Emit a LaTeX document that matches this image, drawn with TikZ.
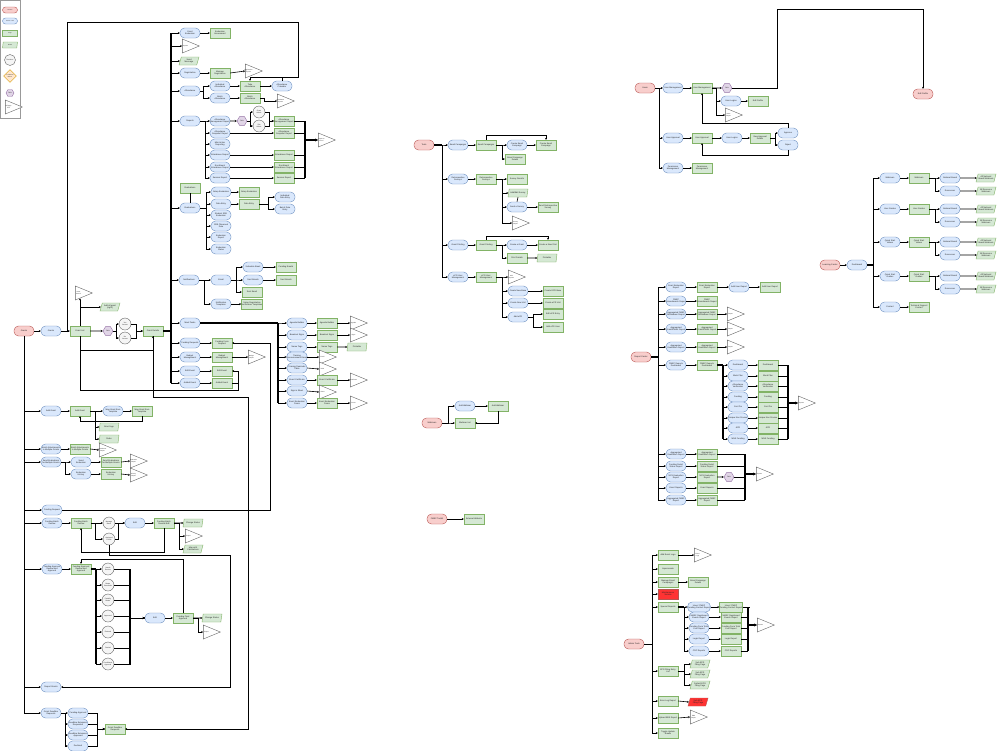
\documentclass[tikz,border=0pt]{standalone}
\usepackage{fontspec}
\setmainfont{Liberation Sans}
\usetikzlibrary{shapes.geometric,arrows.meta}
\definecolor{blfill}{HTML}{DAE8FC}\definecolor{bldraw}{HTML}{6C8EBF}
\definecolor{grfill}{HTML}{D5E8D4}\definecolor{grdraw}{HTML}{82B366}
\definecolor{pkfill}{HTML}{F8CECC}\definecolor{pkdraw}{HTML}{B85450}
\definecolor{pufill}{HTML}{E1D5E7}\definecolor{pudraw}{HTML}{9673A6}
\definecolor{orfill}{HTML}{FFE6CC}\definecolor{ordraw}{HTML}{D79B00}
\definecolor{rdfill}{HTML}{FF3333}
\tikzset{
 base/.style={draw, line width=0.4pt, inner sep=0.3pt, font=\fontsize{2.1}{2.4}\selectfont, align=center, text=black!85},
 bl/.style={base, fill=blfill, draw=bldraw, rounded corners=4.5pt, minimum width=20pt, minimum height=10pt},
 gr/.style={base, fill=grfill, draw=grdraw, minimum width=20pt, minimum height=10pt},
 pk/.style={base, fill=pkfill, draw=pkdraw, rounded corners=4.5pt, minimum width=20pt, minimum height=10pt},
 rd/.style={base, fill=rdfill, draw=pkdraw, minimum width=20pt, minimum height=10pt},
 tri/.style={base, fill=white, draw=black!60, isosceles triangle, isosceles triangle stretches, minimum width=14pt, minimum height=17pt, inner sep=0pt},
 tril/.style={font=\fontsize{1.5}{1.7}\selectfont, align=center, inner sep=0pt, text=black!85, xshift=-1.5pt},
 dat/.style={base, fill=grfill, draw=grdraw, trapezium, trapezium left angle=65, trapezium right angle=115, trapezium stretches body, minimum width=20pt, minimum height=8pt},
 dec/.style={base, circle, fill=black!4, draw=black!60, minimum size=12pt, inner sep=0pt, font=\fontsize{1.7}{1.9}\selectfont},
 hexa/.style={base, regular polygon, regular polygon sides=6, fill=pufill, draw=pudraw, minimum size=10pt, inner sep=0pt, font=\fontsize{1.7}{1.9}\selectfont},
 dia/.style={base, diamond, fill=orfill, draw=ordraw, minimum size=13pt, inner sep=0pt, font=\fontsize{1.4}{1.6}\selectfont},
 ln/.style={draw=black, line width=0.6pt},
 ar/.style={ln, -{Stealth[length=2pt,width=2pt]}},
 tk/.style={draw=black, line width=1.3pt},
 lg/.style={minimum width=15pt, minimum height=6pt, font=\fontsize{1.4}{1.6}\selectfont},
}
\newcommand\xB[4]{\node[bl] (#1) at (#2,#3) {#4};}
\newcommand\xG[4]{\node[gr] (#1) at (#2,#3) {#4};}
\newcommand\xP[4]{\node[pk] (#1) at (#2,#3) {#4};}
\newcommand\xR[4]{\node[rd] (#1) at (#2,#3) {#4};}
\newcommand\xT[4]{\node[tri, label={[tril]center:#4}] (#1) at (#2,#3) {};}
\newcommand\xD[4]{\node[dat] (#1) at (#2,#3) {#4};}
\newcommand\xRD[4]{\node[dat,fill=rdfill,draw=pkdraw] (#1) at (#2,#3) {#4};}
\newcommand\xC[4]{\node[dec] (#1) at (#2,#3) {#4};}
\newcommand\xH[4]{\node[hexa] (#1) at (#2,#3) {#4};}
\newcommand\xE[2]{\draw[ar] (#1.east) -- (#2.west);}
\newcommand\xBus[3]{\foreach \q in {#3}{\draw[ar] (#1.east) -- ++(#2,0) |- (\q.west);}}
\newcommand\xMrg[3]{\foreach \q in {#1}{\draw[ar] (\q.east) -- ++(#2,0) |- (#3.west);}}
\begin{document}
\begin{tikzpicture}[x=1pt,y=-1pt]
\fill[white] (0,0) rectangle (1000,750);
\useasboundingbox (0,0) rectangle (1000,750);
% ---------- legend
\draw[black!40, fill=white, line width=0.4pt] (0,0) rectangle (20,118);
\node[pk,lg,rounded corners=3pt] (lg1) at (10,10) {Section};
\node[bl,lg,rounded corners=3pt] (lg2) at (10,21) {Action / Link};
\node[gr,lg] (lg3) at (10,33) {Page};
\node[dat,lg] (lg4) at (10,45) {Modal};
\node[dec,minimum size=11pt] (lg5) at (10,60) {Decision};
\node[dia] (lg6) at (10,76) {Conditional\\Branch};
\node[hexa,minimum size=8pt] (lg7) at (10,93) {Role};
\node[tri, label={[tril]center:Off-page\\Link}] (lg8) at (10,107) {};
% ---------- GRANTS (left)
\xP{grants}{24}{331}{Grants}
\xB{gB}{51}{331}{Grants}
\xG{gList}{80}{331}{Grant List}
\xT{gSrch}{80}{293}{Grant\\Search}
\xD{gAdd}{110}{307}{Add all grant\\(right)}
\xH{gRole}{108}{331}{Role}
\xC{gC1}{125}{324}{Yes\\Access}
\xC{gC2}{125}{338}{No\\Access}
\xG{gDet}{153}{331}{Grant Details}
\xE{grants}{gB}\xE{gB}{gList}\xE{gList}{gRole}
\draw[ar] (gList.north) -- (gSrch.south);
\draw[ar] (gList.north) |- (gAdd.west);
\xBus{gRole}{3}{gC1,gC2}
\xMrg{gC1,gC2}{5}{gDet}
\draw[ar] (gList.south) -- ++(0,14) -| (gDet.south);
% trunk children
\xB{evA}{190}{33}{Grant\\Evaluation}\xG{evAG}{220}{33}{Evaluation\\Assessment}
\xT{repT}{187}{46}{Reports}
\xD{sMsg}{189}{61}{Send\\Message}
\xB{reg}{190}{73}{Registration}\xG{regG}{220}{73}{Manage\\Registration}\xT{regT}{250}{71}{Registration\\Reports}
\xB{att}{190}{91}{Attendance}
\xB{attI}{220}{86}{Individual\\Attendance}\xB{attB}{220}{98}{Batch\\Attendance}
\xG{attT}{250}{86}{Take\\Attendance}\xG{attBG}{250}{98}{Batch\\Attendance}
\xB{attCal}{282}{86}{Attendance\\Calendar}\xT{attTr}{282}{101}{Attendance\\Reports}
\xB{rep}{190}{121}{Reports}
\xB{r1}{220}{121}{Attendance\\Management Report}
\xH{rHex}{242}{121}{Role}
\xC{rC1}{259}{112}{Grant\\Admin}\xC{rC2}{259}{126}{Site\\Admin}
\xG{r1G}{284}{121}{Attendance\\Management Report}
\xB{r2}{220}{133}{Attendance\\Snapshot Report}\xG{r2G}{284}{133}{Attendance\\Snapshot Report}
\xB{r3}{220}{144}{Mini Action\\Reporting}
\xB{r4}{220}{155}{Attendance Report}\xG{r4G}{284}{155}{Attendance Report}
\xB{r5}{220}{167}{Enrollment\\Attendance Report}\xG{r5G}{284}{167}{Enrollment\\Attendance Report}
\xB{r6}{220}{178}{Session Report}\xG{r6G}{284}{178}{Session Report}
\xT{rT}{323}{140}{Export to\\Excel}
\xG{evalG}{190}{188}{Evaluations}
\xB{eval}{190}{208}{Evaluations}
\xB{e1}{221}{192}{Setup Evaluation}\xG{e1G}{249}{192}{Setup Evaluation}
\xB{e2}{221}{204}{Data Entry}\xG{e2G}{249}{204}{Data Entry}
\xB{e3}{221}{215}{Student SRE\\Evaluation}
\xB{e4}{221}{226}{SRE Observed\\Data}
\xB{e5}{221}{237}{Evaluation\\Report}
\xB{e6}{221}{249}{Evaluation\\Status}
\xB{e2a}{285}{197}{Individual\\Data Entry}\xB{e2b}{285}{209}{Batch Data\\Entry}
\xB{notif}{189}{280}{Notifications}
\xB{email}{221}{280}{Email}
\xB{n1}{253}{267}{Schedule Email}\xB{n2}{253}{280}{Sent Emails}\xG{n3}{252}{292}{Sent Email}
\xG{n1G}{286}{267}{Pending Emails}\xG{n2G}{286}{280}{Sent Emails}
\xB{ntpl}{221}{304}{Notification\\Templates}\xG{ntplG}{252}{304}{Setup Registration\\Notification Templates}
\xB{mt}{190}{323}{Mark Tasks}
\xB{m1}{297}{323}{Agenda Builder}\xG{m1G}{327}{323}{Agenda Builder}\xT{m1T}{355}{323}{Agenda}
\xB{m2}{297}{335}{Breakout Signs}\xG{m2G}{327}{335}{Breakout Signs}\xT{m2T}{355}{335}{Signs}
\xB{m3}{297}{347}{Name Tags}\xG{m3G}{327}{347}{Name Tags}\xD{m3D}{357}{347}{Printable}
\xB{m4}{297}{357}{Training\\Announcement Email}\xT{m4T}{324}{357}{Email}
\xB{m5}{297}{368}{Training Reminder\\Table}\xT{m5T}{324}{369}{Table}
\xB{m6}{297}{380}{Event Certificate}\xG{m6G}{327}{380}{Event Certificate}\xT{m6T}{355}{380}{Certificate}
\xB{m7}{297}{391}{Sign in Sheet}\xT{m7T}{324}{392}{Sheet}
\xB{m8}{297}{403}{Event Evaluation\\Forms}\xG{m8G}{327}{403}{Event Evaluation\\Forms}\xT{m8T}{355}{403}{Forms}
\xB{fr}{190}{343}{Funding Requests}\xG{frG}{222}{343}{Funding Form\\Request}
\xB{bm}{190}{357}{Budget\\Management}\xG{bmG}{222}{357}{Budget\\Management}\xT{bmT}{253}{357}{Budget\\Report}
\xB{ee}{190}{371}{Edit Event}\xG{eeG}{222}{371}{Edit Event}
\xB{ae}{190}{383}{Added Event}\xG{aeG}{222}{383}{Added Event}
% trunk
\coordinate (trunk) at (171,0);
\draw[tk] (gDet.east) -- (gDet.east -| trunk);
\draw[tk] (171,33) -- (171,383);
\foreach \q in {evA,repT,sMsg,reg,att,rep,eval,notif,mt,fr,bm,ee,ae}{\draw[ar] (\q.west -| trunk) -- (\q.west);}
\xE{evA}{evAG}\xE{reg}{regG}\xE{regG}{regT}
\xBus{att}{3}{attI,attB}\xE{attI}{attT}\xE{attB}{attBG}\xE{attT}{attCal}
\draw[ar] (attBG.east) -- ++(4,0) |- (attTr.west);
\draw[ar] (gB.east) -- ++(6,0) -- ++(0,-309) -- ++(231,0) -- ++(0,55) -| (attT.north);
\draw[ln] (attCal.north) -- ++(0,-4);
\xBus{rep}{5}{r1,r2,r3,r4,r5,r6}
\xE{r1}{rHex}\xBus{rHex}{3}{rC1,rC2}\xMrg{rC1,rC2}{4}{r1G}
\xE{r2}{r2G}\xE{r4}{r4G}\xE{r5}{r5G}\xE{r6}{r6G}
\foreach \q in {r1G,r2G,r4G,r5G,r6G}{\draw[ln] (\q.east) -- ++(11,0);}
\draw[tk] (305,121) -- (305,178);
\draw[tk,-{Stealth[length=3pt,width=3pt]}] (305,140) -- (rT.west);
\draw[ln] (evalG.south) -- (eval.north);
\xBus{eval}{6}{e1,e2,e3,e4,e5,e6}
\xE{e1}{e1G}\xE{e2}{e2G}\xBus{e2G}{9}{e2a,e2b}
\xE{notif}{email}\xBus{email}{5}{n1,n2,n3}\xE{n1}{n1G}\xE{n2}{n2G}
\draw[ar] (notif.east) -- ++(5,0) |- (ntpl.west);\xE{ntpl}{ntplG}
\draw[tk] (mt.east) -- ++(78,0);
\draw[tk] (278,323) -- (278,403);
\xBus{mt}{78}{m1,m2,m3,m4,m5,m6,m7,m8}
\xE{m1}{m1G}\xE{m1G}{m1T}\xE{m2}{m2G}\xE{m2G}{m2T}\xE{m3}{m3G}\xE{m3G}{m3D}
\xE{m4}{m4T}\xE{m5}{m5T}\xE{m6}{m6G}\xE{m6G}{m6T}\xE{m7}{m7T}\xE{m8}{m8G}\xE{m8G}{m8T}
\xE{fr}{frG}\xE{bm}{bmG}\xE{bmG}{bmT}\xE{ee}{eeG}\xE{ae}{aeG}
\draw[ar] (gList.south) -- ++(0,54) -- ++(158,0) |- (eeG.east);
\draw[ln] (aeG.east) -- ++(6,0);
% lower left
\xB{addG}{51}{411}{Add Grant}\xG{addGG}{80}{411}{Add Grant}
\xB{addT}{113}{411}{Map Grant from\\Template}\xG{addTG}{142}{411}{Map Grant from\\Template}
\xD{gLogo}{109}{427}{Grant logo}\xD{gRules}{109}{439}{Rules}
\xE{addG}{addGG}\xE{addGG}{addT}\xE{addT}{addTG}
\draw[ar] (addGG.east) -- ++(5,0) |- (gLogo.west);
\draw[ar] (addGG.east) -- ++(5,0) |- (gRules.west);
\draw[ar] (addTG.south) -- ++(0,5) -| (addGG.south);
\xB{bat}{51}{449}{Batch Attachments\\to Multiple Grants}\xG{batG}{80}{449}{Batch Attachments\\to Multiple Grants}\xT{batT}{104}{450}{Attachment\\Report}
\xE{bat}{batG}\xE{batG}{batT}
\xB{sev}{51}{462}{Send Evaluations\\for Multiple Grants}\xB{sev2}{81}{462}{Send\\Evaluation}
\xG{sevG}{111}{462}{Send Evaluations\\for Multiple Grants}\xT{sevT}{135}{461}{Evaluation\\Report}
\xB{evh}{81}{474}{Evaluation\\History}\xG{evhG}{111}{474}{Evaluation\\History}\xT{evhT}{135}{475}{History\\Report}
\xBus{sev}{4}{sev2,evh}\xE{sev2}{sevG}\xE{sevG}{sevT}\xE{evh}{evhG}\xE{evhG}{evhT}
\xB{fReq}{52}{510}{Funding Request}
\draw[ar] (fReq.east) -- ++(208,0) |- (frG.east);
\xB{fbr}{52}{523}{Funding Batch\\Review}\xG{fbrG}{81}{523}{Funding Batch\\Review}
\xC{fbC1}{109}{523}{Manage\\Batch}\xC{fbC2}{109}{539}{Assigned\\Funds}
\xB{fbE}{135}{523}{Edit}\xG{fbEG}{164}{523}{Funding Batch\\Review Edit}
\xD{fbD1}{193}{523}{Change Status}\xT{fbT}{190}{536}{Export}\xD{fbD2}{193}{549}{Map with\\Calculations}
\xE{fbr}{fbrG}\xBus{fbrG}{4}{fbC1,fbC2}\xMrg{fbC1,fbC2}{3}{fbE}
\xE{fbE}{fbEG}\xE{fbEG}{fbD1}
\draw[ar] (fbEG.east) -- ++(5,0) |- (fbT.west);
\draw[ar] (fbEG.east) -- ++(5,0) |- (fbD2.west);
\draw[ar] (fbEG.south) -- ++(0,24) -| (fbrG.south);
\xB{fa}{52}{569}{Funding Approval\\Review and\\Approval}\xG{faG}{81}{569}{Funding Approval\\Review and\\Approval}
\xC{fa1}{108}{569}{Needs\\Review}\xC{fa2}{108}{585}{Meets\\Standards}\xC{fa3}{108}{600}{Partially\\Meets}
\xC{fa4}{108}{616}{Approved}\xC{fa5}{108}{632}{Revised}\xC{fa6}{108}{648}{Denied}\xC{fa7}{108}{664}{Conditional\\Approval}
\xB{faE}{155}{618}{Edit}\xG{faEG}{183}{618}{Funding Final\\Approval}
\xD{faD}{212}{618}{Change Status}\xT{faT}{208}{632}{Export}
\xE{fa}{faG}
\draw[tk] (faG.east) -- ++(5,0);
\draw[tk] (96,569) -- (96,664);
\xBus{faG}{5}{fa1,fa2,fa3,fa4,fa5,fa6,fa7}
\xMrg{fa1,fa2,fa3,fa4,fa5,fa6,fa7}{16}{faE}
\draw[tk] (130,569) -- (130,664);
\xE{faE}{faEG}\xE{faEG}{faD}
\draw[ar] (faEG.east) -- ++(5,0) |- (faT.west);
\draw[ar] (faEG.north) -- ++(0,-54) -| (faG.north);
\xB{rg}{51}{687}{Report Grants}
\draw[ar] (fbC2.south) -- ++(0,10) -- ++(121,0) |- (rg.east);
\xB{dl}{51}{713}{Grant Deadline\\Requests}
\xB{dl1}{78}{713}{Pending Approval}\xB{dl2}{78}{724}{Deadline Extension\\Requested}
\xB{dl3}{78}{735}{Deadline Extension\\Approved}\xB{dl4}{78}{746}{Declined}
\xG{dlG}{115}{729}{Grant Deadline\\Requests}
\xBus{dl}{4}{dl1,dl2,dl3,dl4}\xMrg{dl1,dl2,dl3,dl4}{9}{dlG}
\draw[ar] (gDet.south) -- ++(0,61) -- ++(95,0) |- (dlG.east);
\foreach \q in {addG,bat,sev,fReq,fbr,fa,rg,dl}{\draw[ar] (grants.south) |- (\q.west);}
% ---------- TOOLS (middle)
\xP{tools}{424}{145}{Tools}
\xB{ec}{458}{145}{Email Campaigns}\xG{ecG}{486}{145}{Email Campaigns}
\xB{ec1}{517}{145}{Create Email\\Campaign}\xG{ec1G}{546}{145}{Create Email\\Campaign}\xG{ec2}{515}{159}{Email Campaign\\Details}
\xB{rs}{458}{179}{Retrospective\\Surveys}\xG{rsG}{486}{179}{Retrospective\\Surveys}
\xG{rs1}{517}{179}{Survey Results}\xD{rs2}{518}{193}{Add/Edit Survey}
\xB{rs3}{517}{207}{Send a Survey}\xG{rs3G}{548}{207}{Send Retrospective\\Survey}\xT{rsT}{517}{223}{Survey\\Report}
\xB{gp}{458}{245}{Grant Printing}\xG{gpG}{486}{245}{Grant Printing}
\xB{gp1}{517}{245}{Create a Grant}\xG{gp1G}{548}{245}{Create a New Print}
\xG{gp2}{517}{258}{Print Details}\xD{gp3}{547}{258}{Printable}
\xB{um}{458}{277}{ePR User\\Management}\xG{umG}{486}{277}{ePR User\\Management}\xT{umT}{513}{277}{ePR\\Reports}
\xB{u1}{518}{291}{Create New Base}\xG{u1G}{553}{291}{Create EPR Base}
\xB{u2}{518}{303}{Create New Unit}\xG{u2G}{553}{303}{Create ePR Unit}
\xB{u3}{518}{317}{Add ePR}\xG{u3G}{553}{314}{Edit ePR Entry}\xG{u3H}{553}{327}{Add ePR User}
\draw[tk] (tools.east) -- ++(8,0);
\xBus{tools}{8}{ec,rs,gp,um}
\xE{ec}{ecG}\xBus{ecG}{6}{ec1,ec2}\xE{ec1}{ec1G}
\draw[ar] (ecG.north) -- ++(0,-5) -| (ec1G.north);
\xE{rs}{rsG}\xBus{rsG}{6}{rs1,rs2,rs3,rsT}\draw[ln] (rs2.south) -- (rs3.north);\xE{rs3}{rs3G}
\xE{gp}{gpG}\xBus{gpG}{6}{gp1,gp2}\xE{gp1}{gp1G}\xE{gp2}{gp3}
\draw[ar] (gpG.north) -- ++(0,-4) -| (gp1G.north);
\xE{um}{umG}\xBus{umG}{6}{umT,u1,u2,u3}\xE{u1}{u1G}\xE{u2}{u2G}\xBus{u3}{5}{u3G,u3H}
\xP{web}{432}{423}{Webinars}
\xB{w1}{465}{406}{Add Webinar}\xG{w1G}{498}{406}{Add Webinar}\xG{w2}{465}{423}{Webinar List}
\xBus{web}{6}{w1,w2}\xE{w1}{w1G}
\draw[ar] (w1G.south) |- (w2.east);
\xP{fmep}{437}{519}{FMEP Toolkit}\xG{fmepG}{474}{519}{External Website}
\xE{fmep}{fmepG}
% ---------- USERS
\xP{users}{645}{88}{Users}
\xB{uM}{673}{88}{User Management}\xG{uMG}{702}{88}{User Management}\xH{uHex}{727}{88}{Role}
\xB{uE}{731}{101}{User Logins}\xG{uEG}{758}{101}{Edit Profile}\xT{uT}{730}{115}{Users\\Report}
\xP{editP}{923}{94}{Edit Profile}
\xB{uA}{673}{138}{User Approval}\xG{uAG}{702}{138}{User Approval}
\xB{uA1}{732}{138}{User Logins}\xG{uA1G}{760}{138}{View Approval\\Details}
\xB{appr}{788}{133}{Approve}\xB{rej}{788}{145}{Reject}
\xB{pm}{673}{168}{Permission\\Management}\xG{pmG}{702}{168}{Permission\\Management}
\xBus{users}{4}{uM,uA,pm}
\xE{uM}{uMG}\xE{uMG}{uHex}
\draw[ar] (uHex.east) -- ++(45,0) -- ++(0,-79) -| (editP.north);
\xBus{uMG}{4}{uE,uT}\xE{uE}{uEG}
\xE{uA}{uAG}\xE{uAG}{uA1}\xE{uA1}{uA1G}\xBus{uA1G}{5}{appr,rej}
\draw[ar] (appr.north) -- ++(0,-5) -| (uMG.south);
\draw[ar] (rej.south) -- ++(0,5) -| (uAG.south);
\xE{pm}{pmG}
% ---------- LEARNING CENTER
\xP{lc}{830}{265}{Learning Center}
\xB{dash}{857}{265}{Dashboard}
\xE{lc}{dash}
\foreach \i/\y/\lab in {1/178/Webinars,2/209/User Guides,3/242/Quick Start\\Videos,4/276/Quick Start\\Guides}{
 \xB{L\i}{890}{\y}{\lab}
 \xG{LG\i}{919}{\y}{\lab}
 \xB{La\i}{950}{\y}{National Board}
 \xB{Lb\i}{950}{\y+13}{Resources}
 \xD{Lc\i}{986}{\y}{All National\\Board Webinars}
 \xD{Ld\i}{986}{\y+13}{All Resource\\Webinars}
 \xE{L\i}{LG\i}\xBus{LG\i}{6}{La\i,Lb\i}\xE{La\i}{Lc\i}\xE{Lb\i}{Ld\i}
}
\xB{L5}{890}{307}{Contact}\xG{LG5}{919}{307}{Technical Support\\Contact}
\xE{L5}{LG5}
\draw[tk] (dash.east) -- ++(6,0);
\xBus{dash}{6}{L1,L2,L3,L4,L5}
% ---------- REPORT CENTER
\xP{rc}{641}{357}{Report Center}
\xB{q1}{676}{287}{Grant Evaluation\\Report}\xG{q1G}{707}{287}{Grant Evaluation\\Report}
\xB{q1b}{739}{287}{Add User Report}\xG{q1c}{770}{287}{Add User Report}
\xB{q2}{676}{301}{FMEP\\Amendments Report}\xG{q2G}{707}{301}{FMEP\\Amendments Report}
\xB{q3}{676}{314}{Aggregated FMEP\\Breakdown Report}\xG{q3G}{707}{314}{Aggregated FMEP\\Breakdown Report}\xT{q3T}{732}{314}{Report}
\xB{q4}{676}{329}{Aggregated\\Grants/Work Report}\xG{q4G}{707}{329}{Aggregated\\Grants/Work Report}\xT{q4T}{732}{329}{Report}
\xB{q5}{676}{347}{Aggregated\\Evaluation Report}\xG{q5G}{707}{347}{Aggregated\\Evaluation Report}\xT{q5T}{732}{347}{Report}
\xB{q6}{676}{365}{FMEP Reports\\Dashboard}\xG{q6G}{707}{365}{FMEP Reports\\Dashboard}
\foreach \i/\y/\lab in {1/365/Dashboard,2/376/Work Plan/Outline,3/386/Attendance\\Verification,4/397/Funding,5/407/Cost Pie,6/418/Unique Non Proviso,7/428/APR,8/439/MNS Funding}{
 \xB{fm\i}{738}{\y}{\lab}
 \xG{fmG\i}{768}{\y}{\lab}
 \xE{fm\i}{fmG\i}
 \draw[ln] (fmG\i.east) -- ++(10,0);
}
\xT{fmT}{803}{403}{Reports}
\draw[tk] (788,365) -- (788,439);
\draw[tk,-{Stealth[length=3pt,width=3pt]}] (788,403) -- (fmT.west);
\xE{q6}{q6G}
\draw[tk] (q6G.east) -- ++(6,0);
\draw[tk] (723,365) -- (723,439);
\xBus{q6G}{6}{fm1,fm2,fm3,fm4,fm5,fm6,fm7,fm8}
\xB{q7}{676}{454}{Aggregated\\Evaluation Report}\xG{q7G}{707}{454}{Aggregated\\Evaluation Report}
\xB{q8}{676}{466}{Funding Detail\\Status Report}\xG{q8G}{707}{466}{Funding Detail\\Status Report}
\xB{q9}{676}{477}{NCS Evaluation\\Report}\xG{q9G}{707}{477}{NCS Evaluation\\Report}\xH{q9H}{729}{477}{Role}
\xB{q10}{676}{488}{Grant Reports}\xG{q10G}{707}{488}{Grant Reports}
\xB{q11}{676}{500}{Aggregated FMEP\\Report}\xG{q11G}{707}{500}{Aggregated FMEP\\Report}
\xT{qT}{761}{474}{Reports}
\xE{q1}{q1G}\xE{q1G}{q1b}\xE{q1b}{q1c}\xE{q2}{q2G}
\xE{q3}{q3G}\xE{q3G}{q3T}\xE{q4}{q4G}\xE{q4G}{q4T}\xE{q5}{q5G}\xE{q5G}{q5T}
\xE{q7}{q7G}\xE{q8}{q8G}\xE{q9}{q9G}\xE{q9G}{q9H}\xE{q10}{q10G}\xE{q11}{q11G}
\foreach \q in {q7G,q8G,q10G,q11G}{\draw[ln] (\q.east) -- ++(28,0);}
\draw[ln] (q9H.east) -- ++(11,0);
\draw[tk] (745,454) -- (745,500);
\draw[tk,-{Stealth[length=3pt,width=3pt]}] (745,474) -- (qT.west);
\draw[tk] (rc.east) -- ++(7,0);
\xBus{rc}{7}{q1,q2,q3,q4,q5,q6,q7,q8,q9,q10,q11}
% ---------- ADMIN TOOLS
\xP{adm}{634}{644}{Admin Tools}
\xG{a1}{668}{555}{Add Event Logo}\xT{a1T}{699}{555}{Event\\Logo}
\xG{a2}{668}{569}{Impersonate}
\xG{a3}{668}{582}{Manage Email\\Campaigns}\xG{a3G}{698}{582}{Email Campaign\\Details}
\xR{a4}{668}{594}{Maintenance\\Service}
\xG{a5}{668}{607}{Special Reports}
\foreach \i/\y/\lab in {1/607/Users' FMEP\\Funding Contact Report,2/617/NMSC Registered\\Events Report,3/628/Funding Form Total\\Cost Report,4/639/Login Report,5/651/CDC Reports}{
 \xB{s\i}{699}{\y}{\lab}
 \xG{sG\i}{731}{\y}{\lab}
 \xE{s\i}{sG\i}
 \draw[ln] (sG\i.east) -- ++(7,0);
}
\xT{sT}{762}{625}{Reports}
\draw[tk] (748,607) -- (748,651);
\draw[tk,-{Stealth[length=3pt,width=3pt]}] (748,625) -- (sT.west);
\draw[tk] (a5.east) -- ++(6,0);
\xBus{a5}{6}{s1,s2,s3,s4,s5}
\xG{a6}{668}{671}{EPR Filing Entry\\List}
\xD{a6a}{700}{664}{Sub EPR\\Filing Page}\xD{a6b}{700}{674}{Sub EPR\\Filing Page}\xD{a6c}{700}{685}{Default EPR\\Filing Page}
\xG{a7}{668}{701}{Error Log Report}\xRD{a7D}{698}{702}{Sub EPR\\Filing Page}
\xG{a8}{668}{718}{Upload EBS Report}\xT{a8T}{695}{717}{EBS\\Report}
\xG{a9}{668}{733}{Toggle Update\\Emails}
\xBus{adm}{8}{a1,a2,a3,a4,a5,a6,a7,a8,a9}
\xE{a1}{a1T}\xE{a3}{a3G}\xBus{a6}{6}{a6a,a6b,a6c}\xE{a7}{a7D}\xE{a8}{a8T}
\end{tikzpicture}
\end{document}
